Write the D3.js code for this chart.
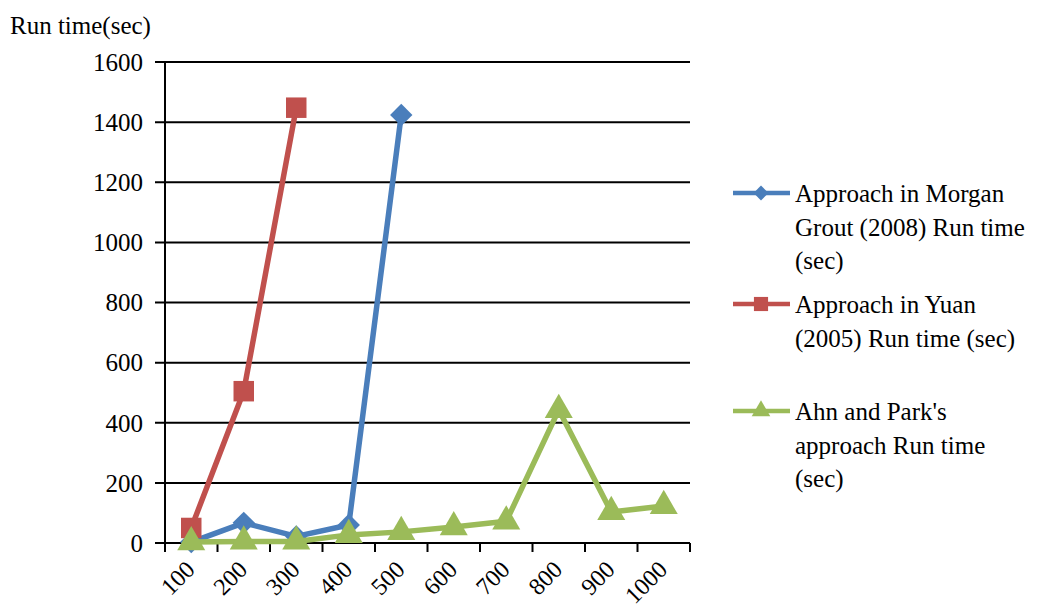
<!DOCTYPE html>
<html lang="en">
<head>
<meta charset="UTF-8">
<script src="https://d3js.org/d3.v7.min.js"></script>
<style>
  body { margin: 0; background: #fff; }
  svg text { font-family: "Liberation Serif", "Times New Roman", serif; fill: #000; }
</style>
</head>
<body>
<svg id="chart" width="1053" height="607"></svg>
<script>
// data
const categories = ["100", "200", "300", "400", "500", "600", "700", "800", "900", "1000"];
const morganGrout = [3, 67, 22, 60, 1424];
const yuan = [50, 505, 1448];
const ahnPark = [3, 5, 5, 27, 37, 53, 72, 443, 103, 123];
const yTicks = [0, 200, 400, 600, 800, 1000, 1200, 1400, 1600];

// rotated square for the diamond marker
const diamond = {
  draw(ctx, size) {
    const r = Math.sqrt(size / 2);
    ctx.moveTo(0, -r); ctx.lineTo(r, 0); ctx.lineTo(0, r); ctx.lineTo(-r, 0); ctx.closePath();
  }
};

const series = [
  { name: ["Approach in Morgan", "Grout (2008) Run time", "(sec)"], values: morganGrout, color: "#4a7ebb", symbol: diamond, size: 250, legendSize: 110, legendY: 193 },
  { name: ["Approach in Yuan", "(2005) Run time (sec)"], values: yuan, color: "#c0504d", symbol: d3.symbolSquare, size: 420, legendSize: 200, legendY: 304 },
  { name: ["Ahn and Park's", "approach Run time", "(sec)"], values: ahnPark, color: "#9bbb59", symbol: d3.symbolTriangle, size: 340, legendSize: 150, legendY: 411 }
];

const svg = d3.select("#chart").attr("font-family", "Liberation Serif, serif");
const plotLeft = 165, plotRight = 690, plotTop = 62, plotBottom = 543;

const x = d3.scaleBand().domain(categories).range([plotLeft, plotRight]);
const y = d3.scaleLinear().domain([0, 1600]).range([plotBottom, plotTop]);
const cx = c => x(c) + x.bandwidth() / 2;

// gridlines
svg.append("g").selectAll("line")
  .data(yTicks)
  .enter().append("line")
  .attr("x1", plotLeft - 10).attr("x2", plotRight)
  .attr("y1", d => y(d)).attr("y2", d => y(d))
  .attr("stroke", "#000").attr("stroke-width", 2);

// y axis line
svg.append("line")
  .attr("x1", plotLeft).attr("x2", plotLeft).attr("y1", plotTop).attr("y2", plotBottom)
  .attr("stroke", "#000").attr("stroke-width", 2);

// y tick labels
svg.append("g").selectAll("text")
  .data(yTicks)
  .enter().append("text")
  .attr("x", 143).attr("y", d => y(d))
  .attr("dy", "0.35em")
  .attr("text-anchor", "end")
  .style("font-size", "25px")
  .text(d => d);

// x ticks at band edges
const edges = categories.map(c => x(c)).concat([plotRight]);
svg.append("g").selectAll("line")
  .data(edges)
  .enter().append("line")
  .attr("x1", d => d).attr("x2", d => d)
  .attr("y1", plotBottom).attr("y2", plotBottom + 9)
  .attr("stroke", "#000").attr("stroke-width", 2);

// x labels, rotated
svg.append("g").selectAll("text")
  .data(categories)
  .enter().append("text")
  .attr("transform", d => "translate(" + (cx(d) - 1) + "," + 565 + ") rotate(-45)")
  .attr("text-anchor", "end")
  .attr("dy", "0.35em")
  .style("font-size", "24px")
  .text(d => d);

// axis title
svg.append("text")
  .attr("x", 10).attr("y", 34)
  .style("font-size", "25px")
  .text("Run time(sec)");

const line = d3.line()
  .x((d, i) => cx(categories[i]))
  .y(d => y(d));

series.forEach(s => {
  const g = svg.append("g");
  g.append("path")
    .attr("d", line(s.values))
    .attr("fill", "none")
    .attr("stroke", s.color)
    .attr("stroke-width", 5.5)
    .attr("stroke-linejoin", "round");
  g.selectAll("path.pt")
    .data(s.values)
    .enter().append("path")
    .attr("class", "pt")
    .attr("d", d3.symbol().type(s.symbol).size(s.size))
    .attr("transform", (d, i) => "translate(" + cx(categories[i]) + "," + y(d) + ")")
    .attr("fill", s.color);

  // legend
  const lg = svg.append("g");
  lg.append("line")
    .attr("x1", 733).attr("x2", 790)
    .attr("y1", s.legendY).attr("y2", s.legendY)
    .attr("stroke", s.color).attr("stroke-width", 4.5);
  lg.append("path")
    .attr("d", d3.symbol().type(s.symbol).size(s.legendSize))
    .attr("transform", "translate(761," + s.legendY + ")")
    .attr("fill", s.color);
  lg.selectAll("text")
    .data(s.name)
    .enter().append("text")
    .attr("x", 795)
    .attr("y", (d, i) => s.legendY + 9 + i * 33.5)
    .style("font-size", "25px")
    .text(d => d);
});
</script>
</body>
</html>
